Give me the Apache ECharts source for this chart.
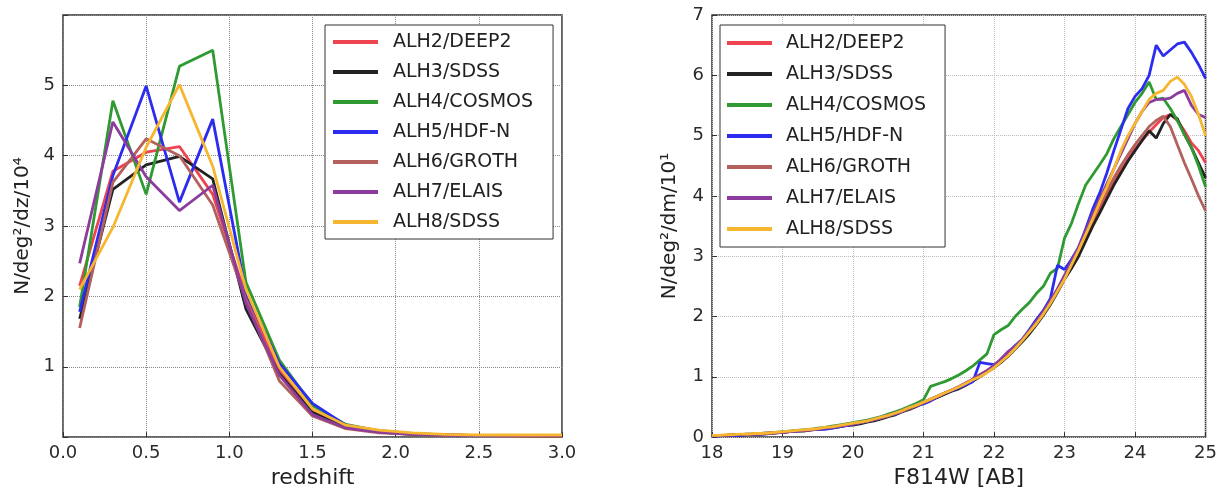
<!DOCTYPE html>
<html><head><meta charset="utf-8">
<script src="https://cdn.jsdelivr.net/npm/echarts@6/dist/echarts.min.js"></script>
<style>html,body{margin:0;padding:0;background:#fff}#c{width:1220px;height:494px}</style>
</head><body><div id="c"></div>
<script>
const seriesNames = ["ALH2/DEEP2","ALH3/SDSS","ALH4/COSMOS","ALH5/HDF-N","ALH6/GROTH","ALH7/ELAIS","ALH8/SDSS"];
const seriesColors = ["#ee4450","#222222","#2f9a32","#2c2cf0","#b4605c","#8c3c9c","#f6b630"];

// Left panel: redshift
const zValues = [0.1,0.3,0.5,0.7,0.9,1.1,1.3,1.5,1.7,1.9,2.1,2.3,2.5,2.7,2.9,3.0];
const zRed    = [2.15,3.78,4.05,4.13,3.45,2.00,0.95,0.38,0.15,0.08,0.05,0.03,0.02,0.02,0.02,0.02];
const zBlack  = [1.68,3.52,3.87,3.99,3.67,1.82,0.90,0.35,0.14,0.07,0.04,0.03,0.02,0.02,0.01,0.01];
const zGreen  = [1.85,4.78,3.45,5.27,5.50,2.20,1.10,0.45,0.18,0.09,0.05,0.03,0.02,0.02,0.02,0.02];
const zBlue   = [1.78,3.72,4.99,3.34,4.52,2.05,1.05,0.48,0.17,0.09,0.05,0.03,0.02,0.02,0.02,0.02];
const zBrown  = [1.55,3.62,4.24,4.00,3.30,1.95,0.80,0.30,0.12,0.06,0.04,0.02,0.02,0.01,0.01,0.01];
const zPurple = [2.47,4.48,3.70,3.22,3.58,1.90,0.88,0.32,0.13,0.07,0.04,0.03,0.02,0.02,0.02,0.02];
const zOrange = [2.10,2.98,4.12,5.01,3.85,2.10,1.00,0.40,0.17,0.10,0.06,0.04,0.03,0.03,0.03,0.03];

// Right panel: F814W magnitude, 18.0 .. 25.0 step 0.1
const magValues = [];
for (let i = 0; i <= 70; i++) magValues.push(+(18 + i * 0.1).toFixed(1));
const mRed = [0.02,0.03,0.03,0.03,0.04,0.04,0.05,0.05,0.06,0.07,
 0.08,0.09,0.10,0.11,0.12,0.14,0.15,0.16,0.18,0.20,
 0.21,0.23,0.26,0.28,0.31,0.35,0.39,0.43,0.47,0.52,
 0.57,0.61,0.66,0.72,0.78,0.83,0.88,0.94,1.01,1.10,
 1.18,1.27,1.38,1.47,1.60,1.75,1.90,2.04,2.22,2.44,
 2.68,2.88,3.10,3.35,3.58,3.80,4.02,4.22,4.42,4.60,
 4.78,4.92,5.06,5.18,5.30,5.35,5.25,5.08,4.88,4.75,4.55];
const mBlack = [0.03,0.02,0.03,0.04,0.03,0.04,0.05,0.05,0.06,0.07,
 0.08,0.09,0.10,0.10,0.12,0.13,0.14,0.15,0.17,0.19,
 0.20,0.22,0.25,0.27,0.30,0.34,0.37,0.42,0.46,0.51,
 0.56,0.61,0.66,0.71,0.76,0.80,0.86,0.93,1.00,1.08,
 1.15,1.24,1.34,1.46,1.58,1.71,1.86,2.02,2.20,2.40,
 2.62,2.80,3.00,3.25,3.50,3.72,3.95,4.18,4.38,4.58,
 4.75,4.92,5.08,4.96,5.20,5.35,5.28,5.02,4.80,4.55,4.30];
const mGreen = [0.03,0.03,0.03,0.04,0.04,0.05,0.05,0.06,0.07,0.08,
 0.09,0.10,0.11,0.12,0.13,0.15,0.16,0.18,0.20,0.22,
 0.24,0.26,0.28,0.31,0.34,0.38,0.42,0.46,0.51,0.56,
 0.62,0.84,0.88,0.92,0.97,1.03,1.10,1.18,1.28,1.38,
 1.70,1.78,1.85,2.00,2.12,2.23,2.38,2.50,2.72,2.80,
 3.30,3.55,3.88,4.18,4.35,4.52,4.70,4.95,5.15,5.35,
 5.55,5.70,5.89,5.60,5.62,5.45,5.25,5.02,4.80,4.50,4.15];
const mBlue = [0.02,0.02,0.03,0.03,0.03,0.04,0.04,0.05,0.06,0.07,
 0.08,0.09,0.10,0.11,0.12,0.13,0.13,0.15,0.17,0.19,
 0.21,0.24,0.26,0.29,0.33,0.36,0.38,0.43,0.48,0.52,
 0.55,0.60,0.67,0.73,0.77,0.82,0.87,0.92,1.24,1.22,
 1.20,1.28,1.40,1.52,1.62,1.78,1.95,2.10,2.30,2.85,
 2.78,2.95,3.15,3.45,3.78,4.05,4.38,4.75,5.10,5.45,
 5.65,5.78,6.00,6.50,6.32,6.42,6.52,6.55,6.38,6.18,5.95];
const mBrown = [0.03,0.03,0.03,0.04,0.04,0.04,0.05,0.06,0.06,0.07,
 0.08,0.09,0.10,0.11,0.12,0.14,0.15,0.17,0.19,0.20,
 0.22,0.24,0.26,0.29,0.32,0.35,0.39,0.43,0.47,0.52,
 0.57,0.62,0.68,0.73,0.78,0.84,0.90,0.96,1.04,1.10,
 1.19,1.28,1.38,1.50,1.62,1.75,1.90,2.06,2.25,2.45,
 2.66,2.88,3.12,3.38,3.62,3.85,4.08,4.30,4.50,4.68,
 4.85,5.00,5.15,5.25,5.32,5.15,4.85,4.55,4.28,4.00,3.75];
const mPurple = [0.03,0.03,0.03,0.04,0.04,0.05,0.05,0.06,0.07,0.08,
 0.08,0.09,0.10,0.11,0.12,0.13,0.15,0.16,0.18,0.20,
 0.22,0.24,0.27,0.29,0.32,0.36,0.40,0.44,0.48,0.53,
 0.58,0.63,0.68,0.73,0.78,0.83,0.89,0.96,1.03,1.10,
 1.18,1.30,1.42,1.50,1.62,1.76,1.92,2.08,2.26,2.46,
 2.68,2.92,3.15,3.42,3.70,3.95,4.20,4.45,4.70,4.95,
 5.20,5.40,5.55,5.60,5.60,5.62,5.70,5.75,5.50,5.35,5.30];
const mOrange = [0.03,0.03,0.04,0.04,0.05,0.05,0.06,0.06,0.07,0.08,
 0.09,0.10,0.11,0.12,0.13,0.14,0.16,0.17,0.19,0.21,
 0.23,0.25,0.27,0.30,0.33,0.36,0.40,0.44,0.49,0.53,
 0.58,0.63,0.68,0.73,0.78,0.83,0.89,0.95,1.00,1.07,
 1.15,1.25,1.35,1.47,1.60,1.74,1.88,2.04,2.22,2.42,
 2.62,2.86,3.10,3.36,3.62,3.90,4.15,4.45,4.75,5.00,
 5.20,5.40,5.60,5.70,5.75,5.90,5.97,5.85,5.65,5.35,5.00];

const leftSets = [zRed,zBlack,zGreen,zBlue,zBrown,zPurple,zOrange];
const rightSets = [mRed,mBlack,mGreen,mBlue,mBrown,mPurple,mOrange];

const FONT = "DejaVu Sans";
const txt = {fontFamily: FONT, color: "#2a2a2a"};

function pairs(xs, ys){ return xs.map((x,i)=>[x, ys[i]]); }

const series = [];
seriesNames.forEach((n,i)=>{
  series.push({type:'line', name:n, xAxisIndex:0, yAxisIndex:0, data:pairs(zValues,leftSets[i]),
    showSymbol:false, symbol:'none', lineStyle:{width:2.8, color:seriesColors[i]}, itemStyle:{color:seriesColors[i]}, z:2+i});
});
seriesNames.forEach((n,i)=>{
  series.push({type:'line', name:n, xAxisIndex:1, yAxisIndex:1, data:pairs(magValues,rightSets[i]),
    showSymbol:false, symbol:'none', lineStyle:{width:2.8, color:seriesColors[i]}, itemStyle:{color:seriesColors[i]}, z:2+i});
});

function legend(left, top, gap, pad, textPad){
  return {
    data: seriesNames, orient:'vertical', left:left, top:top,
    icon:'rect', itemWidth:45, itemHeight:4, itemGap:gap,
    padding: pad, backgroundColor:'#fff', borderColor:'#333', borderWidth:1,
    selectedMode:false,
    textStyle:{fontFamily:FONT, fontSize:19, color:'#222', lineHeight:20, padding:[0,0,0,textPad]}
  };
}

const chart = echarts.init(document.getElementById('c'), null, {renderer:'canvas'});
chart.setOption({
  animation:false,
  backgroundColor:'#fff',
  grid:[
    {left:63, top:15, width:499, height:428, show:true, borderColor:'#333', borderWidth:1.5, backgroundColor:'transparent'},
    {left:712, top:15, width:497, height:428, show:true, borderColor:'#333', borderWidth:1.5, backgroundColor:'transparent'}
  ],
  legend:[ legend(325, 25, 10, [7,20,7,8], 10), legend(720, 25, 11, [8,19,8,7], 9) ],
  xAxis:[
    {type:'value', gridIndex:0, min:0, max:3, interval:0.5,
     name:'redshift', nameLocation:'middle', nameGap:26,
     nameTextStyle:{fontFamily:FONT, fontSize:22, color:'#222'},
     axisLine:{show:false}, axisTick:{inside:true, length:5, lineStyle:{color:'#333'}},
     axisLabel:{...txt, fontSize:18, margin:7, formatter:v=>v.toFixed(1)},
     splitLine:{show:true, lineStyle:{type:'dotted', color:'#888', width:1}}},
    {type:'value', gridIndex:1, min:18, max:25, interval:1,
     name:'F814W [AB]', nameLocation:'middle', nameGap:26,
     nameTextStyle:{fontFamily:FONT, fontSize:22, color:'#222'},
     axisLine:{show:false}, axisTick:{inside:true, length:5, lineStyle:{color:'#333'}},
     axisLabel:{...txt, fontSize:18, margin:7},
     splitLine:{show:true, lineStyle:{type:'dotted', color:'#bbb', width:1}}}
  ],
  yAxis:[
    {type:'value', gridIndex:0, min:0, max:6, interval:1,
     name:'N/deg²/dz/10⁴', nameLocation:'middle', nameGap:30,
     nameTextStyle:{fontFamily:FONT, fontSize:20, color:'#222'},
     axisLine:{show:false}, axisTick:{inside:true, length:5, lineStyle:{color:'#333'}},
     axisLabel:{...txt, fontSize:18, margin:8, formatter:v=>(v===0||v===6)?'':String(v)},
     splitLine:{show:true, lineStyle:{type:'dotted', color:'#888', width:1}}},
    {type:'value', gridIndex:1, min:0, max:7, interval:1,
     name:'N/deg²/dm/10¹', nameLocation:'middle', nameGap:32,
     nameTextStyle:{fontFamily:FONT, fontSize:20, color:'#222'},
     axisLine:{show:false}, axisTick:{inside:true, length:5, lineStyle:{color:'#333'}},
     axisLabel:{...txt, fontSize:18, margin:8},
     splitLine:{show:true, lineStyle:{type:'dotted', color:'#bbb', width:1}}}
  ],
  series: series
});
</script>
</body></html>
